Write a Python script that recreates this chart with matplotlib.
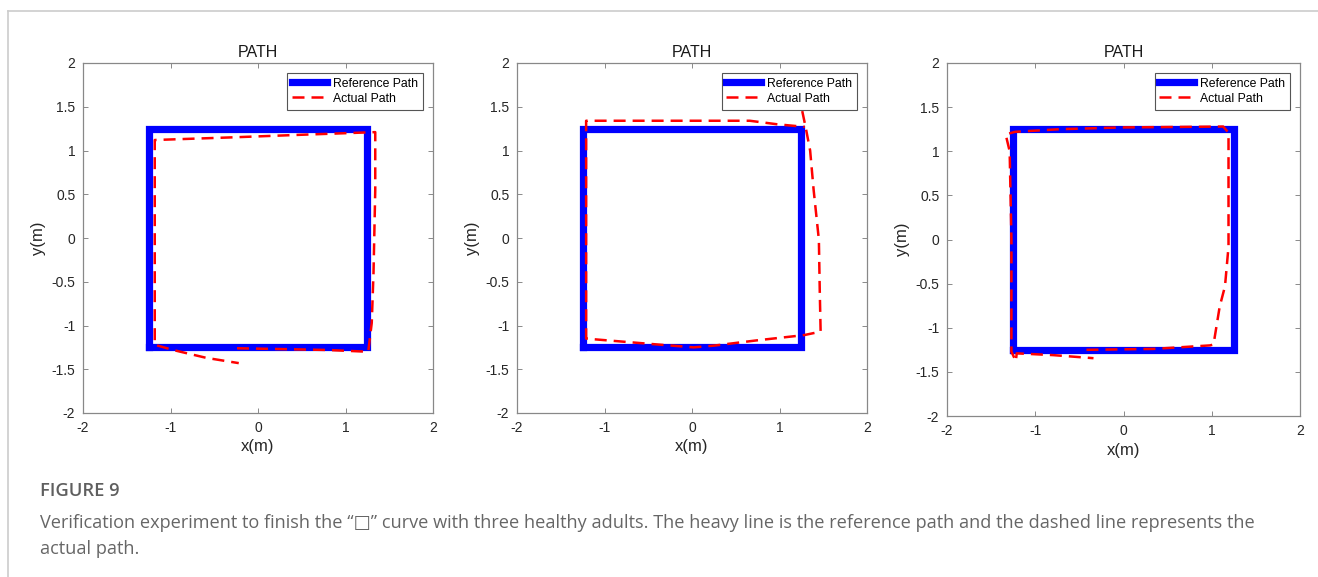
import matplotlib
matplotlib.use("Agg")
import matplotlib.pyplot as plt
from matplotlib.lines import Line2D

# reference square path (same for all three subjects)
ref_x = [-1.25, 1.25, 1.25, -1.25, -1.25]
ref_y = [-1.25, -1.25, 1.25, 1.25, -1.25]

# actual paths
p1_x = [-0.24, 0.30, 0.80, 1.26, 1.30, 1.32, 1.34, 1.34, 0.50, -0.30, -1.18, -1.18, -1.18, -0.97, -0.59, -0.22]
p1_y = [-1.26, -1.27, -1.28, -1.30, -0.97, -0.40, 0.55, 1.21, 1.18, 1.15, 1.12, 0.00, -1.22, -1.28, -1.37, -1.43]

p2_x = [1.26, 1.30, 1.35, 1.39, 1.45, 1.46, 1.47, 1.28, 0.74, 0.25, 0.02, -0.48, -1.21, -1.21, -1.21, 0.66, 0.97, 1.29]
p2_y = [1.45, 1.26, 1.00, 0.55, -0.02, -0.60, -1.07, -1.11, -1.17, -1.23, -1.25, -1.21, -1.15, 0.00, 1.34, 1.34, 1.30, 1.27]

p3_x = [-0.42, 0.34, 0.98, 1.02, 1.09, 1.15, 1.19, 1.19, 1.13, 0.00, -0.72, -1.23, -1.335, -1.29, -1.27, -1.27, -1.22, -1.21, -0.80, -0.34]
p3_y = [-1.25, -1.24, -1.20, -1.19, -0.76, -0.53, -0.08, 1.21, 1.28, 1.27, 1.25, 1.22, 1.19, 1.00, 0.00, -1.27, -1.38, -1.29, -1.31, -1.345]

paths = [(p1_x, p1_y), (p2_x, p2_y), (p3_x, p3_y)]

xticks = [-2, -1, 0, 1, 2]
yticks = [-2, -1.5, -1, -0.5, 0, 0.5, 1, 1.5, 2]

plt.rcParams['font.family'] = ['Liberation Sans', 'DejaVu Sans']

W, H = 1318, 577
fig = plt.figure(figsize=(W / 100, H / 100), dpi=100)

# page frame lines
fig.add_artist(Line2D([8 / W, 1], [1 - 11 / H, 1 - 11 / H], color='#cccccc', lw=1.2))
fig.add_artist(Line2D([8 / W, 8 / W], [0, 1 - 11 / H], color='#cccccc', lw=1.2))

lefts = [83, 517, 947]
sizes = [350, 350, 353]
top = 63

for left, size, (px, py) in zip(lefts, sizes, paths):
    ax = fig.add_axes([left / W, 1 - (top + size) / H, size / W, size / H])
    ax.plot(ref_x, ref_y, color='#0000ff', lw=5.2, solid_joinstyle='miter',
            solid_capstyle='projecting', label='Reference Path')
    ax.plot(px, py, color='#ff0000', lw=1.8, linestyle=(0, (4.8, 2.8)), label='Actual Path')
    ax.set_xlim(-2, 2)
    ax.set_ylim(-2, 2)
    ax.set_xticks(xticks)
    ax.set_yticks(yticks)
    ax.set_xticklabels([f'{t:g}' for t in xticks])
    ax.set_yticklabels([f'{t:g}' for t in yticks])
    ax.tick_params(direction='in', length=3.5, width=0.6, color='#777777',
                   labelsize=10, labelcolor='#262626', top=True, right=True)
    ax.tick_params(axis='x', pad=6)
    ax.tick_params(axis='y', pad=5.5)
    for s in ax.spines.values():
        s.set_color('#888888')
        s.set_linewidth(0.9)
    ax.set_title('PATH', fontsize=11.5, color='#1a1a1a', pad=4)
    ax.set_xlabel('x(m)', fontsize=12, color='#262626', labelpad=3)
    ax.set_ylabel('y(m)', fontsize=12, color='#262626', labelpad=4)
    leg = ax.legend(loc='upper right', fontsize=8.8, handlelength=2.8, handletextpad=0.55,
                    borderpad=0.4, labelspacing=0.25, borderaxespad=0.8,
                    fancybox=False, framealpha=1, edgecolor='#555555')
    leg.get_frame().set_linewidth(0.8)

cap_font = ['Open Sans', 'DejaVu Sans']
fig.text(40 / W, 1 - 491 / H, 'FIGURE 9', fontsize=13.2, fontweight='semibold',
         color='#5f5f5f', family=cap_font, va='center')
fig.text(40 / W, 1 - 523 / H,
         'Verification experiment to finish the \u201c\u25a1\u201d curve with three healthy adults. '
         'The heavy line is the reference path and the dashed line represents the',
         fontsize=13.1, color='#666666', family=cap_font, va='center')
fig.text(40 / W, 1 - 549 / H, 'actual path.', fontsize=13.1, color='#666666',
         family=cap_font, va='center')

fig.savefig('out.png', dpi=100)
